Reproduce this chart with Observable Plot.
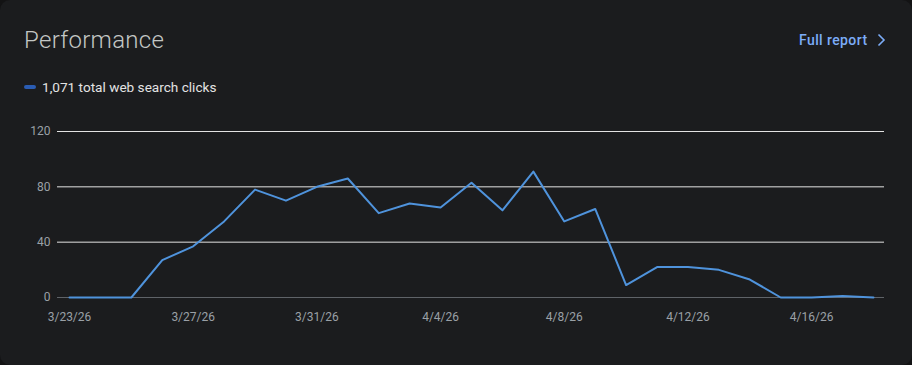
<!DOCTYPE html>
<html><head><meta charset="utf-8">
<script src="https://cdn.jsdelivr.net/npm/d3@7"></script>
<script src="https://cdn.jsdelivr.net/npm/@observablehq/plot@0.6"></script>
<style>
html,body{margin:0;padding:0;background:#131314;}
#card{position:relative;width:912px;height:365px;background:#1b1c1e;border-radius:10px;overflow:hidden;font-family:Roboto,"Open Sans",sans-serif;}
#title{position:absolute;left:24px;top:26px;font-size:24px;color:#c4c7c5;font-weight:300;letter-spacing:0.3px;}
#full{position:absolute;left:799px;top:32px;font-size:14px;color:#7cacf8;font-weight:500;letter-spacing:0.4px;display:flex;align-items:center;}
#full svg{margin-left:9px;}
#legend{position:absolute;left:24px;top:79px;font-size:13.6px;color:#e3e3e3;display:flex;align-items:center;}
#legend i{display:inline-block;width:12px;height:4px;border-radius:2px;background:#2a5cb3;margin-right:6px;}
#chart{position:absolute;left:0;top:110px;}
</style></head><body>
<div id="card">
<div id="title">Performance</div>
<div id="full">Full report<svg width="10" height="14" viewBox="0 0 10 14"><path d="M2.5 1.5 L8 7 L2.5 12.5" fill="none" stroke="#7cacf8" stroke-width="1.6"/></svg></div>
<div id="legend"><i></i><span id="legtext"></span></div>
<div id="chart"></div>
</div>
<script>
const dates = ["2026-03-23","2026-03-24","2026-03-25","2026-03-26","2026-03-27","2026-03-28","2026-03-29","2026-03-30","2026-03-31","2026-04-01","2026-04-02","2026-04-03","2026-04-04","2026-04-05","2026-04-06","2026-04-07","2026-04-08","2026-04-09","2026-04-10","2026-04-11","2026-04-12","2026-04-13","2026-04-14","2026-04-15","2026-04-16","2026-04-17","2026-04-18"];
const clicks = [0,0,0,27,37,55,78,70,80,86,61,68,65,83,63,91,55,64,9,22,22,20,13,0,0,1,0];
const yTicks = [0,40,80,120];
const xTickDates = ["2026-03-23","2026-03-27","2026-03-31","2026-04-04","2026-04-08","2026-04-12","2026-04-16"];
const xTickLabels = ["3/23/26","3/27/26","3/31/26","4/4/26","4/8/26","4/12/26","4/16/26"];
const totalClicks = 1071;
const legendLabel = "total web search clicks";

const data = dates.map((d,i)=>({date:new Date(d+"T00:00:00Z"), clicks:clicks[i]}));
document.getElementById("legtext").textContent = d3.format(",")(totalClicks) + " " + legendLabel;
const tickDates = xTickDates.map(d=>new Date(d+"T00:00:00Z"));
const labelFor = new Map(tickDates.map((d,i)=>[+d, xTickLabels[i]]));

const chart = Plot.plot({
  width: 912, height: 230,
  marginLeft: 57, marginRight: 28, marginTop: 21, marginBottom: 43,
  insetLeft: 12, insetRight: 11,
  style: {background: "transparent", fontFamily: "Roboto, 'Open Sans', sans-serif", fontSize: "12px", color: "#9aa0a6"},
  x: {type: "utc", domain: [data[0].date, data[data.length-1].date]},
  y: {domain: [0, 120]},
  marks: [
    Plot.ruleY(yTicks.filter(v=>v>0), {stroke: "#e3e3e3", strokeWidth: 1}),
    Plot.ruleY([0], {stroke: "#5f6368", strokeWidth: 1}),
    Plot.axisY({ticks: yTicks, tickSize: 0, tickPadding: 7, label: null, fill: "#9aa0a6", fontSize: 12}),
    Plot.axisX({ticks: tickDates, tickFormat: d => labelFor.get(+d), tickSize: 0, tickPadding: 15, label: null, fill: "#9aa0a6", fontSize: 12}),
    Plot.line(data, {x: "date", y: "clicks", stroke: "#4f93dc", strokeWidth: 2, curve: "linear"})
  ]
});
document.getElementById("chart").appendChild(chart);
</script>
</body></html>
